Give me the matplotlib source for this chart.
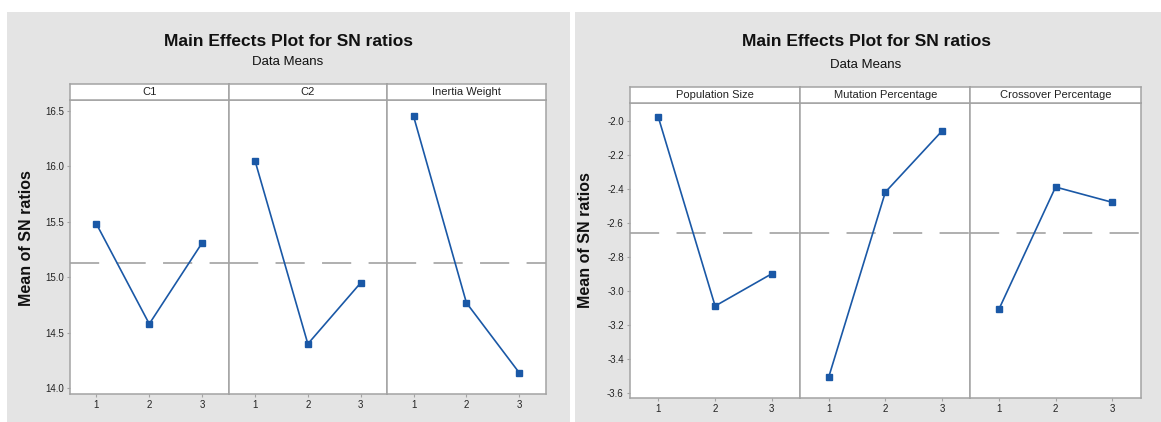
import matplotlib
matplotlib.use("Agg")
import matplotlib.pyplot as plt
import numpy as np
from matplotlib.patches import Rectangle

W, H = 1161, 422
BLUE = "#1a58a6"
FRAME = "#a3a3a3"
PANEL_BG = "#e4e4e4"

levels = [1, 2, 3]

# SN ratio means per factor level, design A
left_factors = ["C1", "C2", "Inertia Weight"]
c1_means = [15.48, 14.58, 15.31]
c2_means = [16.05, 14.40, 14.95]
inertia_means = [16.45, 14.77, 14.14]
left_yticks = [14.0, 14.5, 15.0, 15.5, 16.0, 16.5]

# SN ratio means per factor level, design B
right_factors = ["Population Size", "Mutation Percentage", "Crossover Percentage"]
population_means = [-1.98, -3.09, -2.90]
mutation_means = [-3.51, -2.42, -2.06]
crossover_means = [-3.11, -2.39, -2.48]
right_yticks = [-3.6, -3.4, -3.2, -3.0, -2.8, -2.6, -2.4, -2.2, -2.0]

plt.rcParams.update({"font.family": ["Liberation Sans", "DejaVu Sans"]})


def frac(x0, y0, x1, y1):
    """Pixel box (top-left origin) -> figure fraction rect."""
    return [x0 / W, (H - y1) / H, (x1 - x0) / W, (y1 - y0) / H]


def style_frame(ax):
    for s in ax.spines.values():
        s.set_color(FRAME)
        s.set_linewidth(1.1)


def draw_group(fig, x0, x1, strip_top, top, bottom, factors, series, yticks, ylim):
    grand = np.mean(np.concatenate(series))
    w = (x1 - x0) / len(factors)
    for i, (name, vals) in enumerate(zip(factors, series)):
        left = x0 + i * w
        ax = fig.add_axes(frac(left, top, left + w, bottom), zorder=2)
        ax.set_facecolor("white")
        lw = 1.1
        ax.axhline(grand, color="#9a9a9a", lw=lw,
                   linestyle=(0, (21.0 / lw, 12.5 / lw)), zorder=1)
        ax.plot(levels, vals, color=BLUE, lw=1.2, marker="s", ms=5,
                mfc=BLUE, mec=BLUE, zorder=3)
        ax.set_xlim(0.5, 3.5)
        ax.set_ylim(*ylim)
        ax.set_xticks(levels)
        ax.set_xticklabels([str(v) for v in levels])
        ax.set_yticks(yticks)
        ax.tick_params(length=2.5, width=0.8, color=FRAME, labelsize=7,
                       pad=2, labelcolor="#222222")
        if i == 0:
            ax.set_yticklabels([f"{v:.1f}" for v in yticks])
        else:
            ax.tick_params(axis="y", left=False, labelleft=False)
        style_frame(ax)

        strip = fig.add_axes(frac(left, strip_top, left + w, top), zorder=2)
        strip.set_facecolor("white")
        strip.set_xticks([])
        strip.set_yticks([])
        style_frame(strip)
        strip.text(0.5, 0.5, name, ha="center", va="center", fontsize=8,
                   color="#222222", transform=strip.transAxes)


fig = plt.figure(figsize=(W / 100, H / 100), dpi=100)
fig.patch.set_facecolor("white")

# grey backgrounds of the two plots
for bx0, bx1 in [(7, 570), (575, W)]:
    fig.patches.append(Rectangle((bx0 / W, 0), (bx1 - bx0) / W, (H - 12) / H,
                                 transform=fig.transFigure, facecolor=PANEL_BG,
                                 edgecolor="none", zorder=-1))

draw_group(fig, 70, 545.7, 84, 100, 394, left_factors,
           [c1_means, c2_means, inertia_means], left_yticks, (13.949, 16.596))
draw_group(fig, 630, 1140.7, 87.3, 102.7, 398, right_factors,
           [population_means, mutation_means, crossover_means], right_yticks,
           (-3.631, -1.894))

for cx, ty, sy, ly, lx in [(288, 41, 62, 238, 27), (866, 41, 65, 240, 586)]:
    fig.text(cx / W, 1 - ty / H, "Main Effects Plot for SN ratios", ha="center",
             va="center", fontsize=12.5, fontweight="bold", color="#111111")
    fig.text(cx / W, 1 - sy / H, "Data Means", ha="center", va="center",
             fontsize=9.5, color="#111111")
    fig.text(lx / W, 1 - ly / H, "Mean of SN ratios", ha="center", va="center",
             rotation=90, fontsize=11.5, fontweight="bold", color="#111111")

fig.savefig("out.png", dpi=100)
